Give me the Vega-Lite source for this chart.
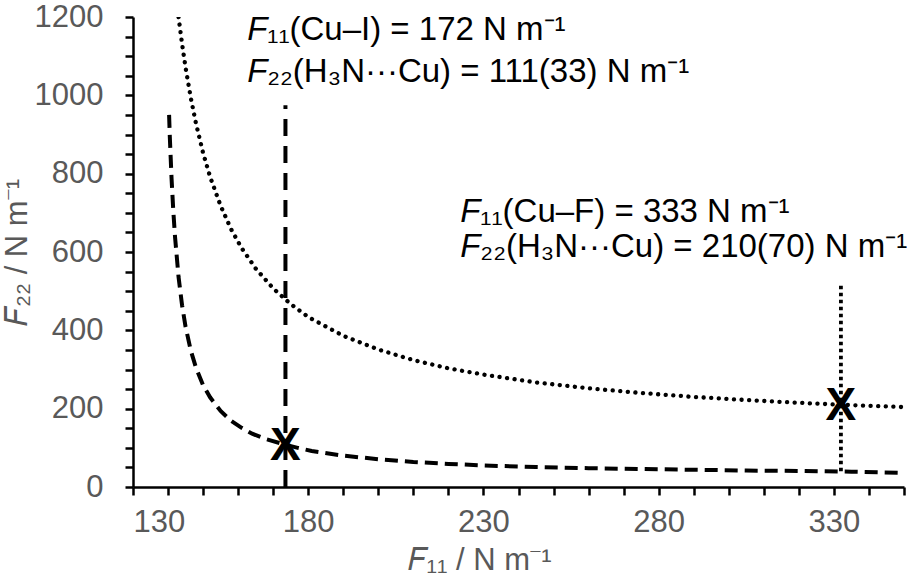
{
  "$schema": "https://vega.github.io/schema/vega-lite/v6.json",
  "width": 771,
  "height": 470,
  "autosize": "none",
  "padding": {"left": 133, "top": 17, "right": 3, "bottom": 101},
  "background": "white",
  "config": {
    "view": {"stroke": null},
    "font": "Liberation Sans",
    "axis": {
      "grid": false,
      "domainColor": "black",
      "domainWidth": 2.5,
      "tickColor": "black",
      "tickWidth": 2.5,
      "tickSize": 8,
      "labelFont": "Liberation Sans",
      "labelFontSize": 31,
      "labelColor": "#595959",
      "titleFont": "Liberation Sans",
      "titleFontSize": 31,
      "titleFontWeight": "normal",
      "titleColor": "#595959"
    }
  },
  "datasets": {
    "dashed": [
      {"x": 140.3, "y": 950}, {"x": 140.5, "y": 895}, {"x": 141, "y": 788}, {"x": 141.5, "y": 705},
      {"x": 142, "y": 638}, {"x": 143, "y": 536}, {"x": 144, "y": 464}, {"x": 145, "y": 409},
      {"x": 146.5, "y": 348}, {"x": 148, "y": 304}, {"x": 150, "y": 260}, {"x": 152, "y": 229},
      {"x": 155, "y": 194}, {"x": 158, "y": 169}, {"x": 161, "y": 151}, {"x": 164, "y": 136},
      {"x": 168, "y": 122}, {"x": 173.5, "y": 108}, {"x": 177, "y": 100}, {"x": 181, "y": 92},
      {"x": 190, "y": 80}, {"x": 200, "y": 71}, {"x": 210, "y": 64}, {"x": 220, "y": 59},
      {"x": 230, "y": 55}, {"x": 245, "y": 51}, {"x": 260, "y": 48}, {"x": 275, "y": 46},
      {"x": 290, "y": 44}, {"x": 305, "y": 42}, {"x": 320, "y": 41}, {"x": 335, "y": 39},
      {"x": 350, "y": 36}
    ],
    "dotted": [
      {"x": 143, "y": 1200}, {"x": 144, "y": 1131}, {"x": 145, "y": 1071}, {"x": 146.5, "y": 993},
      {"x": 148, "y": 927}, {"x": 150, "y": 853}, {"x": 152, "y": 792}, {"x": 155, "y": 718},
      {"x": 158, "y": 658}, {"x": 161, "y": 610}, {"x": 165, "y": 558}, {"x": 170, "y": 507},
      {"x": 175, "y": 467}, {"x": 180, "y": 434}, {"x": 190, "y": 386}, {"x": 200, "y": 351},
      {"x": 210, "y": 324}, {"x": 220, "y": 303}, {"x": 230, "y": 287}, {"x": 245, "y": 267},
      {"x": 260, "y": 252}, {"x": 275, "y": 240}, {"x": 290, "y": 230}, {"x": 305, "y": 222},
      {"x": 320, "y": 215}, {"x": 332, "y": 210}, {"x": 350, "y": 204}
    ],
    "vdash": [{"x": 173.5, "y": 0}, {"x": 173.5, "y": 975}],
    "vdot": [{"x": 332, "y": 40}, {"x": 332, "y": 515}],
    "marks": [{"x": 173.5, "y": 108}, {"x": 332, "y": 210}],
    "notes": [
      {"x": 162.6, "y": 1167, "t": "₁₁(Cu–I) = 172 N m⁻¹"},
      {"x": 162.6, "y": 1060, "t": "₂₂(H₃N···Cu) = 111(33) N m⁻¹"},
      {"x": 223.4, "y": 702, "t": "₁₁(Cu–F) = 333 N m⁻¹"},
      {"x": 223.4, "y": 613, "t": "₂₂(H₃N···Cu) = 210(70) N m⁻¹"}
    ]
  },
  "encoding": {
    "x": {
      "field": "x", "type": "quantitative",
      "scale": {"domain": [130, 350], "nice": false, "zero": false},
      "axis": {
        "values": [130,140,150,160,170,180,190,200,210,220,230,240,250,260,270,280,290,300,310,320,330,340,350],
        "labelExpr": "(datum.value - 130) % 50 === 0 ? datum.label : ''",
        "labelPadding": 12,
        "title": "𝐹₁₁ / N m⁻¹",
        "titleX": 346,
        "titlePadding": 8
      }
    },
    "y": {
      "field": "y", "type": "quantitative",
      "scale": {"domain": [0, 1200], "nice": false},
      "axis": {
        "values": [0,50,100,150,200,250,300,350,400,450,500,550,600,650,700,750,800,850,900,950,1000,1050,1100,1150,1200],
        "format": "d",
        "labelExpr": "datum.value % 200 === 0 ? datum.label : ''",
        "labelPadding": 22,
        "title": "𝐹₂₂ / N m⁻¹",
        "titleX": -100,
        "titleY": 235
      }
    }
  },
  "layer": [
    {
      "data": {"name": "dotted"},
      "mark": {"type": "line", "color": "black", "strokeWidth": 4.3, "strokeDash": [0.1, 7.5], "strokeCap": "round", "clip": true}
    },
    {
      "data": {"name": "dashed"},
      "mark": {"type": "line", "color": "black", "strokeWidth": 4, "strokeDash": [13, 7], "clip": true}
    },
    {
      "data": {"name": "vdash"},
      "mark": {"type": "line", "color": "black", "strokeWidth": 4, "strokeDash": [17, 10]}
    },
    {
      "data": {"name": "vdot"},
      "mark": {"type": "line", "color": "black", "strokeWidth": 3.8, "strokeDash": [3.5, 3.5]}
    },
    {
      "data": {"name": "marks"},
      "mark": {"type": "text", "text": "X", "fontSize": 46, "fontWeight": "bold", "color": "black", "baseline": "middle", "align": "center", "dy": 1}
    },
    {
      "data": {"name": "notes"},
      "mark": {"type": "text", "text": "F", "fontSize": 33, "fontStyle": "italic", "color": "black", "align": "left", "baseline": "middle"}
    },
    {
      "data": {"name": "notes"},
      "mark": {"type": "text", "fontSize": 33, "color": "black", "align": "left", "baseline": "middle", "dx": 20},
      "encoding": {"text": {"field": "t"}}
    }
  ]
}
